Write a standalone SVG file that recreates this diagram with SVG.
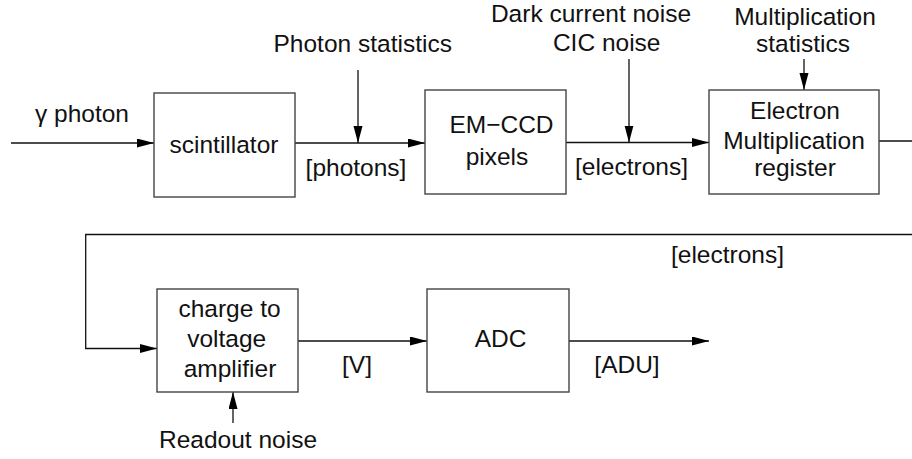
<svg xmlns="http://www.w3.org/2000/svg" width="912" height="459" viewBox="0 0 912 459">
<style>
text{font-family:"Liberation Sans",Arial,sans-serif;font-size:24.5px;fill:#111;text-anchor:middle}
.box{fill:#fff;stroke:#444;stroke-width:1.4}
.ln{fill:none;stroke:#111;stroke-width:1.3}
.ar{marker-end:url(#ah)}
</style>
<defs>
<marker id="ah" markerUnits="userSpaceOnUse" markerWidth="18" markerHeight="10" refX="17" refY="4.5" orient="auto">
<path d="M0,0 L17,4.5 L0,9 z" fill="#000"/>
</marker>
</defs>
<g id="connectors">
<line class="ln ar" x1="11" y1="143" x2="154" y2="143"/>
<line class="ln ar" x1="295" y1="143" x2="425" y2="143"/>
<line class="ln ar" x1="358" y1="70" x2="358" y2="143"/>
<line class="ln ar" x1="566" y1="142.5" x2="709" y2="142.5"/>
<line class="ln ar" x1="629" y1="59" x2="629" y2="142.5"/>
<line class="ln ar" x1="804" y1="59" x2="804" y2="90"/>
<line class="ln" x1="879" y1="141" x2="912" y2="141"/>
<polyline class="ln ar" points="912,234.5 85.7,234.5 85.7,348.5 157,348.5"/>
<line class="ln ar" x1="298" y1="341" x2="427" y2="341"/>
<line class="ln ar" x1="569" y1="341" x2="709" y2="341"/>
<line class="ln ar" x1="233" y1="423" x2="233" y2="392"/>
</g>
<g id="labels">
<text x="35" y="122" style="text-anchor:start">γ photon</text>
<text x="362.7" y="52">Photon statistics</text>
<text x="356" y="176">[photons]</text>
<text x="591" y="22">Dark current noise</text>
<text x="606.7" y="50.7">CIC noise</text>
<text x="631.5" y="175">[electrons]</text>
<text x="805" y="25">Multiplication</text>
<text x="803" y="52">statistics</text>
<text x="727.5" y="263">[electrons]</text>
<text x="357" y="373">[V]</text>
<text x="627" y="373">[ADU]</text>
<text x="159" y="448" style="text-anchor:start">Readout noise</text>
</g>
<g id="scintillator">
<rect class="box" x="154" y="93" width="141" height="104"/>
<text x="224" y="153">scintillator</text>
</g>
<g id="emccd">
<rect class="box" x="425" y="90" width="141" height="104"/>
<text x="501.5" y="133">EM−CCD</text>
<text x="497" y="165">pixels</text>
</g>
<g id="emregister">
<rect class="box" x="709" y="90" width="170" height="104"/>
<text x="795" y="119">Electron</text>
<text x="794" y="149">Multiplication</text>
<text x="795" y="176">register</text>
</g>
<g id="amplifier">
<rect class="box" x="157" y="289" width="141" height="103"/>
<text x="229.5" y="317">charge to</text>
<text x="226.7" y="347">voltage</text>
<text x="230" y="377">amplifier</text>
</g>
<g id="adc">
<rect class="box" x="427" y="289" width="142" height="103"/>
<text x="500.5" y="347">ADC</text>
</g>
</svg>
